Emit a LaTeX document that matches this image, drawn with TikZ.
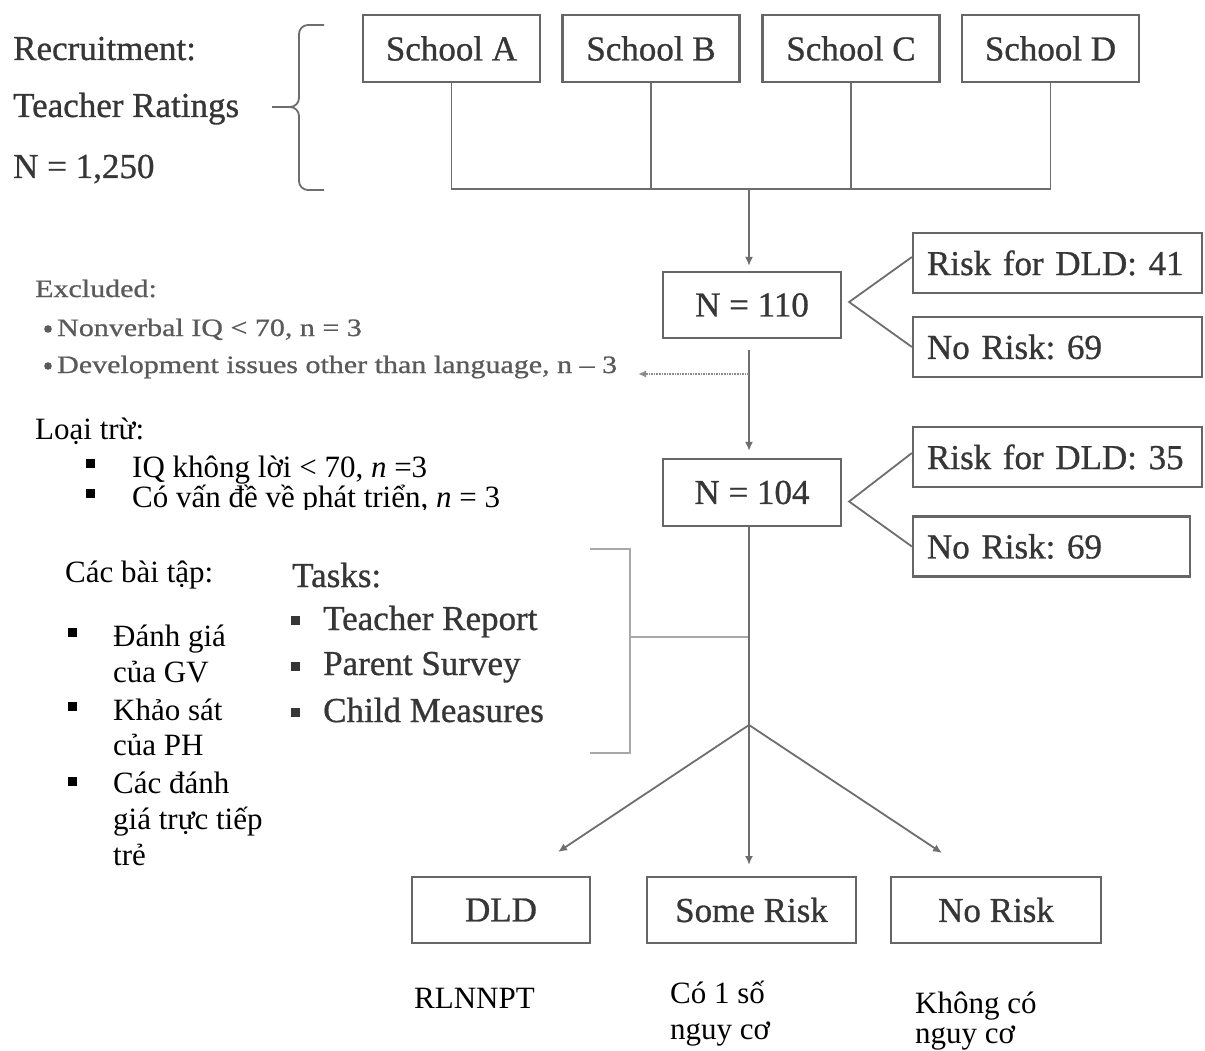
\documentclass[tikz,border=0pt]{standalone}
\usepackage{fontspec}
\setmainfont{Liberation Serif}
\newfontfamily\exfont[FakeStretch=1.2,FakeBold=0.8]{Liberation Serif}
\newfontfamily\engfont[FakeBold=0.8]{Liberation Serif}
\usetikzlibrary{arrows.meta}
\definecolor{txtg}{HTML}{363636}
\definecolor{boxg}{HTML}{666666}
\definecolor{lineg}{HTML}{6E6E6E}
\definecolor{lightg}{HTML}{A8A8A8}
\definecolor{exg}{HTML}{5A5A5A}
\newcommand{\EngSize}{\engfont\fontsize{35}{40}\selectfont}
\newcommand{\VieSize}{\fontsize{31}{36}\selectfont}
\newcommand{\ExSize}{\exfont\fontsize{25}{28}\selectfont}
\frenchspacing
\begin{document}
\frenchspacing
\begin{tikzpicture}[x=1pt,y=-1pt,
 box/.style={draw=boxg, line width=2.2pt, inner sep=0pt, text=txtg, font=\EngSize},
 sidebox/.style={box, align=left, inner xsep=14pt, minimum height=60pt},
 conn/.style={draw=lineg, line width=1.8pt},
 arr/.style={conn, -{Latex[length=9pt,width=8pt]}},
 lite/.style={draw=lightg, line width=2pt},
 eng/.style={anchor=base west, inner sep=0pt, text=txtg, font=\EngSize},
 vie/.style={anchor=base west, inner sep=0pt, text=black, font=\VieSize},
 exl/.style={anchor=base west, inner sep=0pt, text=exg, font=\ExSize},
 sq/.style={fill=black},
]
\useasboundingbox[fill=white] (0,0) rectangle (1205,1051);

% Recruitment
\node[eng] (rec1) at (13,60) {Recruitment:};
\node[eng] (rec2) at (13,117) {Teacher Ratings};
\node[eng] (rec3) at (13,178) {N = 1,250};
\draw[draw=lineg, line width=1.8pt] (324,25) -- (308,25) to[out=180,in=90] (299,34) -- (299,98)
  to[out=-90,in=0] (290,107) -- (272,107);
\draw[draw=lineg, line width=1.8pt] (290,107) to[out=0,in=90] (299,116) -- (299,181)
  to[out=-90,in=180] (308,190) -- (324,190);

% Schools
\node[box, minimum width=177pt, minimum height=67pt] (sA) at (451.5,48.5) {School A};
\node[box, minimum width=177pt, minimum height=67pt] (sB) at (651,48.5) {School B};
\node[box, minimum width=177pt, minimum height=67pt] (sC) at (851,48.5) {School C};
\node[box, minimum width=177pt, minimum height=67pt] (sD) at (1050.5,48.5) {School D};
\coordinate (bar) at (749,189);
\draw[conn] (sA.south) -- (sA.south |- bar) -- (sD.south |- bar) -- (sD.south);
\draw[conn] (sB.south) -- (sB.south |- bar);
\draw[conn] (sC.south) -- (sC.south |- bar);

% N = 110
\node[box, minimum width=178pt, minimum height=66pt] (n110) at (752,305) {N = 110};
\draw[arr, shorten >=5pt] (bar) -- (bar |- n110.north);
\node[sidebox, text width=261pt] (r41) at (1057.5,263) {Risk for DLD: 41};
\node[sidebox, text width=261pt] (nr1) at (1057.5,347) {No Risk: 69};
\draw[conn] ([yshift=6pt]r41.west) -- ([xshift=7pt,yshift=3pt]n110.east) -- (nr1.west);

% N = 104
\node[box, minimum width=178pt, minimum height=67pt] (n104) at (752,492.5) {N = 104};
\coordinate (s1) at (749,350);
\coordinate (ex) at (749,374);
\coordinate (exend) at (638,374);
\draw[arr, shorten >=7pt] (s1) -- (s1 |- n104.north);
\draw[draw=lineg!80, line width=1.6pt, densely dotted, -{Latex[length=8pt,width=7pt]}] (ex) -- (exend);
\node[sidebox, text width=261pt] (r35) at (1057.5,457) {Risk for DLD: 35};
\node[sidebox, text width=249pt] (nr2) at (1051.5,546.5) {No Risk: 69};
\draw[conn] ([yshift=4pt]r35.west) -- ([xshift=7pt,yshift=-9pt]n104.east) -- (nr2.west);

% Excluded (English)
\node[exl] (ex0) at (35,297) {Excluded:};
\fill[exg] (48,329) circle (3.8pt);
\node[exl] (ex1) at (57,336) {Nonverbal IQ < 70, n = 3};
\fill[exg] (48,366) circle (3.8pt);
\node[exl] (ex2) at (57,373) {Development issues other than language, n – 3};

% Loại trừ (Vietnamese)
\node[vie] (lt0) at (35,439) {Loại trừ:};
\fill[sq] (85.5,458.5) rectangle (94.5,467.5);
\node[vie] (lt1) at (132,477) {IQ không lời < 70, \textit{n} =3};
\begin{scope}
\clip (0,0) rectangle (700,509);
\fill[sq] (85.5,488.5) rectangle (94.5,497.5);
\node[vie] (lt2) at (132,507) {Có vấn đề về phát triển, \textit{n} = 3};
\end{scope}

% Tasks
\node[eng] (tk0) at (292,587) {Tasks:};
\fill[txtg] (290.5,615.5) rectangle (299.5,624.5);
\node[eng] (tk1) at (323,630) {Teacher Report};
\fill[txtg] (290.5,661.5) rectangle (299.5,670.5);
\node[eng] (tk2) at (323,675) {Parent Survey};
\fill[txtg] (290.5,707.5) rectangle (299.5,716.5);
\node[eng] (tk3) at (323,722) {Child Measures};
\draw[lite] (590,549) -- (630,549) -- (630,753) -- (590,753);
\coordinate (tb) at (630,637);
\coordinate (tc) at (749,637);
\draw[lite] (tb) -- (tc);

% Các bài tập
\node[vie] (bt0) at (65,582) {Các bài tập:};
\fill[sq] (67.5,627.5) rectangle (76.5,636.5);
\node[vie] (bt1) at (113,646) {Đánh giá};
\node[vie] (bt2) at (113,682) {của GV};
\fill[sq] (67.5,701.5) rectangle (76.5,710.5);
\node[vie] (bt3) at (113,720) {Khảo sát};
\node[vie] (bt4) at (113,755) {của PH};
\fill[sq] (67.5,776.5) rectangle (76.5,785.5);
\node[vie] (bt5) at (113,793) {Các đánh};
\node[vie] (bt6) at (113,829) {giá trực tiếp};
\node[vie] (bt7) at (113,865) {trẻ};

% Fan
\coordinate (fan) at (749,725);
\draw[conn] (n104.south -| fan) -- (fan);
\node[box, minimum width=178pt, minimum height=66pt] (dld) at (501,910) {DLD};
\node[box, minimum width=209pt, minimum height=66pt] (some) at (751.5,910) {Some Risk};
\node[box, minimum width=210pt, minimum height=66pt] (norisk) at (996,910) {No Risk};
\coordinate (tipL) at (558,852);
\coordinate (tipC) at (749,865);
\coordinate (tipR) at (942,853);
\draw[arr] (fan) -- (tipL);
\draw[arr] (fan) -- (tipC);
\draw[arr] (fan) -- (tipR);

% Bottom Vietnamese labels
\node[vie] (v1) at (414,1008) {RLNNPT};
\node[vie] (v2a) at (670,1003) {Có 1 số};
\node[vie] (v2b) at (670,1039) {nguy cơ};
\node[vie] (v3a) at (915,1013) {Không có};
\node[vie] (v3b) at (915,1043) {nguy cơ};
\end{tikzpicture}
\end{document}
